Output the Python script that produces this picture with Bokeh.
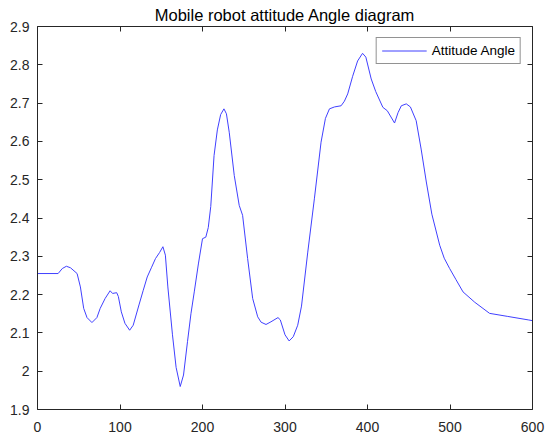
from bokeh.plotting import figure
from bokeh.models import (LinearAxis, FixedTicker, CustomJSTickFormatter, Range1d,
                          Legend, LegendItem)
from bokeh.embed import file_html
from bokeh.resources import INLINE

# ---- data ----
sample_x = [0, 25, 30, 35, 40, 48, 52, 56, 60, 66, 72, 76, 82, 88, 91, 96, 98,
            101.6, 106, 111.7, 116, 123, 128, 133, 138, 143, 148, 152, 155, 158,
            163.6, 168, 173, 177, 181.8, 186, 190, 195, 200, 204, 207, 210, 214,
            218, 222, 226, 229, 232.4, 238.5, 244.5, 248.6, 254.7, 260.8, 266.9,
            271, 277, 283, 291.5, 294.3, 300, 305, 310, 315.4, 320, 327.6, 335.6,
            343.7, 349, 353.9, 360, 368, 372, 376, 382, 388, 394, 398, 404.5, 410,
            418.6, 424, 432.8, 437, 441, 447, 452, 459, 465, 471.3, 478, 487.5, 493,
            499.6, 507, 515.8, 530, 548, 570, 594.8, 600]
attitude_angle = [2.255, 2.255, 2.268, 2.274, 2.270, 2.255, 2.22, 2.164, 2.14, 2.127,
                  2.14, 2.164, 2.19, 2.21, 2.203, 2.205, 2.195, 2.155, 2.125, 2.107,
                  2.12, 2.173, 2.21, 2.246, 2.27, 2.294, 2.31, 2.325, 2.303, 2.22,
                  2.095, 2.01, 1.96, 1.99, 2.077, 2.15, 2.207, 2.28, 2.346, 2.35,
                  2.375, 2.43, 2.563, 2.63, 2.67, 2.685, 2.672, 2.624, 2.511, 2.433,
                  2.407, 2.294, 2.19, 2.142, 2.128, 2.122, 2.129, 2.14, 2.134, 2.095,
                  2.079, 2.09, 2.12, 2.17, 2.311, 2.45, 2.598, 2.66, 2.685, 2.69,
                  2.693, 2.705, 2.724, 2.77, 2.81, 2.830, 2.82, 2.763, 2.73, 2.689,
                  2.68, 2.648, 2.675, 2.693, 2.698, 2.69, 2.654, 2.58, 2.494, 2.41,
                  2.329, 2.295, 2.268, 2.24, 2.207, 2.18, 2.151, 2.143, 2.134, 2.132]
x_ticks = [0, 100, 200, 300, 400, 500, 600]
y_ticks = [1.9, 2.0, 2.1, 2.2, 2.3, 2.4, 2.5, 2.6, 2.7, 2.8, 2.9]
title_text = "Mobile robot attitude Angle diagram"
series_name = "Attitude Angle"

FONT = "Liberation Sans"
AX = "#262626"

p = figure(frame_width=495, frame_height=383, output_backend="svg",
           toolbar_location=None, x_range=Range1d(0, 600), y_range=Range1d(1.9, 2.9),
           min_border_left=37, min_border_right=16, min_border_top=25,
           min_border_bottom=30, background_fill_color="white",
           border_fill_color="white")
p.outline_line_color = None
p.grid.visible = False

p.title.text = title_text
p.title.align = "center"
p.title.text_font = FONT
p.title.text_font_size = "16.5px"
p.title.text_font_style = "normal"
p.title.text_color = "#000000"
p.title.standoff = 6
p.title.offset = 0

def style_axis(ax, ticks, show_labels, standoff=7):
    ax.ticker = FixedTicker(ticks=ticks)
    ax.axis_line_color = AX
    ax.major_tick_line_color = AX
    ax.major_tick_in = 5
    ax.major_tick_out = 0
    ax.minor_tick_line_color = None
    ax.major_label_text_font = FONT
    ax.major_label_text_color = AX
    if show_labels:
        ax.major_label_text_font_size = "14px"
        ax.major_label_standoff = standoff
    else:
        ax.major_label_text_font_size = "0px"
        ax.major_label_standoff = 0
        ax.formatter = CustomJSTickFormatter(code="return '';")

style_axis(p.xaxis[0], x_ticks, True, standoff=12)
style_axis(p.yaxis[0], y_ticks, True, standoff=8)
p.yaxis[0].formatter = CustomJSTickFormatter(code="return String(Math.round(tick*10)/10);")

top_axis = LinearAxis()
style_axis(top_axis, x_ticks, False)
p.add_layout(top_axis, "above")
right_axis = LinearAxis()
style_axis(right_axis, y_ticks, False)
p.add_layout(right_axis, "right")

r = p.line(sample_x, attitude_angle, line_color="#4040ff", line_width=1)

legend = Legend(items=[LegendItem(label=series_name, renderers=[r])],
                location="top_right", margin=11)
legend.label_text_font = FONT
legend.label_text_font_size = "13.5px"
legend.label_text_color = "#000000"
legend.border_line_color = AX
legend.border_line_width = 1
legend.background_fill_color = "white"
legend.background_fill_alpha = 1
legend.glyph_width = 45
legend.glyph_height = 15
legend.label_height = 15
legend.label_standoff = 5
legend.padding = 5
legend.spacing = 0
p.add_layout(legend)

open("out.html", "w").write(file_html(p, INLINE))
